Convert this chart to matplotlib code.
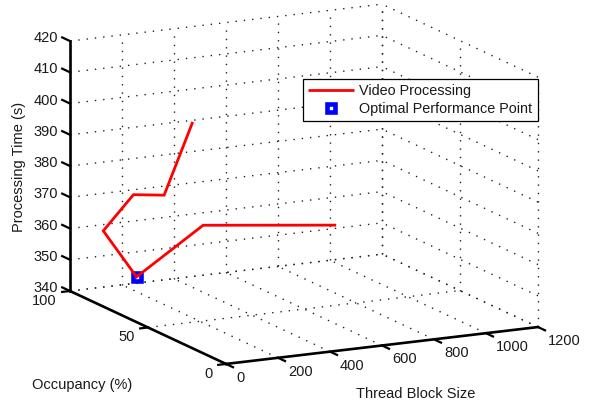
import matplotlib
matplotlib.use("Agg")
import matplotlib.pyplot as plt
from mpl_toolkits.mplot3d import proj3d

plt.rcParams['font.family'] = ['Liberation Sans', 'DejaVu Sans']

block_size = [16, 32, 64, 128, 256, 512, 1024]
occupancy = [24, 45, 70, 100, 100, 100, 100]
proc_time = [411.7, 383.2, 377.2, 358, 342, 356, 351]
opt_block = [256]
opt_occ = [100]
opt_time = [342]
x_ticks = [0, 200, 400, 600, 800, 1000, 1200]
y_ticks = [0, 50, 100]
z_ticks = [340, 350, 360, 370, 380, 390, 400, 410, 420]
x_label = 'Thread Block Size'
y_label = 'Occupancy (%)'
z_label = 'Processing Time (s)'

W, H = 591, 407
TXT = '#1a1a1a'
FS = 10.5
fig = plt.figure(figsize=(W / 100, H / 100), dpi=100)
ax = fig.add_axes([0.1, 0.05, 0.8, 0.8 * W / H], projection='3d', proj_type='ortho',
                  computed_zorder=False)
ax.view_init(elev=13.6, azim=243.3)
ax.set_box_aspect((349, 347, 257))
ax.set_xlim(x_ticks[0], x_ticks[-1])
ax.set_ylim(y_ticks[0], y_ticks[-1])
ax.set_zlim(z_ticks[0], z_ticks[-1])
ax.set_axis_off()
ax.patch.set_visible(False)
fig.patch.set_facecolor('white')


def to_px(x, y, z):
    px, py, _ = proj3d.proj_transform(x, y, z, ax.get_proj())
    dx, dy = ax.transData.transform((px, py))
    return dx, H - dy


# fit the projected box to the reference's corners (70,291) and (538,327)
for _ in range(3):
    ax.apply_aspect()
    fig.canvas.draw()
    a = to_px(x_ticks[0], y_ticks[-1], z_ticks[0])
    b = to_px(x_ticks[-1], y_ticks[0], z_ticks[0])
    s = 468 / (b[0] - a[0])
    bb = ax.get_position()
    w = bb.width * W * s
    rx = (a[0] - bb.x0 * W) * s
    ry = ((H - a[1]) - bb.y0 * H) * s
    l = 70 - rx
    bt = (H - 291) - ry
    ax.set_position([l / W, bt / H, w / W, w / H])
ax.apply_aspect()
fig.canvas.draw()

xmin, xmax = x_ticks[0], x_ticks[-1]
ymin, ymax = y_ticks[0], y_ticks[-1]
zmin, zmax = z_ticks[0], z_ticks[-1]
gkw = dict(color='#222222', lw=1.0, ls=(0, (1, 5)), clip_on=False, zorder=1)
for x in x_ticks:
    ax.plot([x, x], [ymin, ymax], [zmin, zmin], **gkw)
    ax.plot([x, x], [ymax, ymax], [zmin, zmax], **gkw)
for y in y_ticks:
    ax.plot([xmin, xmax], [y, y], [zmin, zmin], **gkw)
    ax.plot([xmax, xmax], [y, y], [zmin, zmax], **gkw)
for z in z_ticks:
    ax.plot([xmin, xmax], [ymax, ymax], [z, z], **gkw)
    ax.plot([xmax, xmax], [ymin, ymax], [z, z], **gkw)

akw = dict(color='black', lw=1.9, clip_on=False, zorder=3, solid_capstyle='projecting')
ax.plot([xmin, xmax], [ymin, ymin], [zmin, zmin], **akw)
ax.plot([xmin, xmin], [ymin, ymax], [zmin, zmin], **akw)
ax.plot([xmin, xmin], [ymax, ymax], [zmin, zmax], **akw)
tkw = dict(color='black', lw=1.6, clip_on=False, zorder=3)
for x in x_ticks:
    ax.plot([x, x], [ymin, ymin - 4.5], [zmin, zmin], **tkw)
for y in y_ticks:
    ax.plot([xmin, xmin - 30], [y, y], [zmin, zmin], **tkw)
for z in z_ticks:
    ax.plot([xmin, xmin], [ymax, ymax + 5], [z, z], **tkw)

marker_h, = ax.plot(opt_block, opt_occ, opt_time, ls='none', marker='s', ms=5.3, mew=3.3,
                    mfc='white', mec='#0000ff', clip_on=False, zorder=4,
                    label='Optimal Performance Point')
line_h, = ax.plot(block_size, occupancy, proc_time, color='#ff0000', lw=2.0, clip_on=False,
                  zorder=5, solid_joinstyle='miter', solid_capstyle='butt',
                  label='Video Processing')


def label(text, xyz, off, ha, va='center'):
    p = proj3d.proj_transform(*xyz, ax.get_proj())[:2]
    ax.annotate(text, xy=p, xycoords='data', xytext=off, textcoords='offset pixels',
                ha=ha, va=va, fontsize=FS, color=TXT, annotation_clip=False)


for x in x_ticks:
    label(str(x), (x, ymin, zmin), (10, -14), 'left')
for y in y_ticks:
    label(str(y), (xmin, y, zmin), (-13, -10), 'right')
for z in z_ticks:
    label(str(z), (xmin, ymax, z), (-12, 3), 'right')

fig.text(416 / W, 1 - 394 / H, x_label, ha='center', va='center', fontsize=FS, color=TXT)
fig.text(82 / W, 1 - 385 / H, y_label, ha='center', va='center', fontsize=FS, color=TXT)
fig.text(19 / W, 1 - 167 / H, z_label, ha='center', va='center', rotation=90, fontsize=FS, color=TXT)

leg = ax.legend(handles=[line_h, marker_h], loc='upper left',
                bbox_to_anchor=(303 / W, 1 - 79 / H), bbox_transform=fig.transFigure,
                borderaxespad=0, fancybox=False, framealpha=1, edgecolor='black',
                fontsize=10.4, handlelength=3.2, handletextpad=0.35, borderpad=0.35,
                labelspacing=0.25, labelcolor=TXT)
leg.get_frame().set_linewidth(0.9)
leg.set_zorder(10)

fig.savefig('out.png', dpi=100)
